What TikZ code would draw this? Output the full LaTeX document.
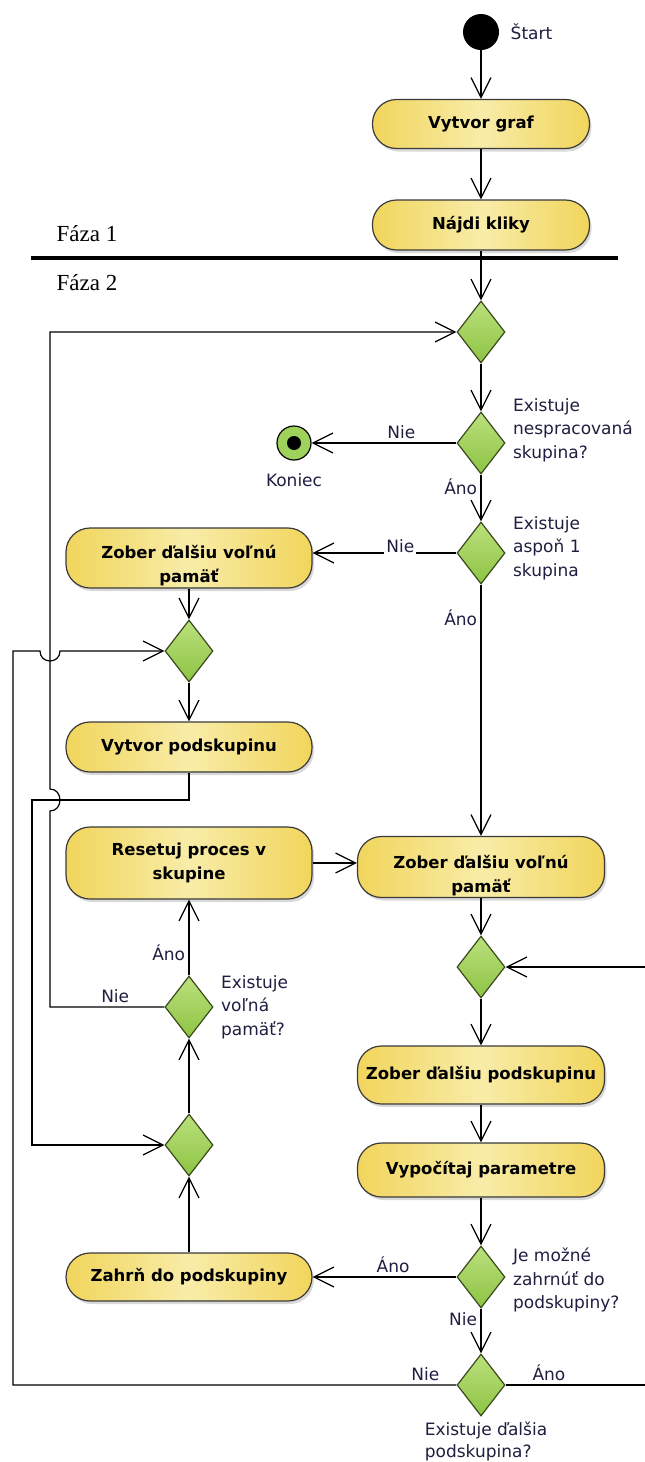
\documentclass[tikz,border=0pt]{standalone}
\usepackage{fontspec}
\setmainfont{DejaVu Sans}
\newfontfamily\fazafont{Liberation Serif}
\usetikzlibrary{arrows.meta, positioning, shapes.geometric, shadows, calc}

\definecolor{boxlight}{HTML}{F8ECA8}
\definecolor{boxdark}{HTML}{F1D55C}
\definecolor{boxline}{HTML}{3A3A3A}
\definecolor{dialight}{HTML}{BBE07C}
\definecolor{diadark}{HTML}{8DC444}
\definecolor{dialine}{HTML}{3B4A1E}
\definecolor{endgreen}{HTML}{9ED25A}
\definecolor{labelcol}{HTML}{1E1E40}

\newcommand{\sunk}[2]{\raisebox{-#1}[\height][\depth]{\begin{tabular}{@{}c@{}}#2\end{tabular}}}

\begin{document}
\begin{tikzpicture}[x=1pt, y=-1pt,
    akcia/.style={rectangle, rounded corners=24pt, draw=boxline, line width=1.2pt,
        left color=boxdark, right color=boxdark, middle color=boxlight,
        minimum width=246pt, align=center, font=\fontsize{16.5}{24}\selectfont\bfseries,
        drop shadow={shadow xshift=2pt, shadow yshift=-3pt, opacity=0.3}},
    rozhod/.style={diamond, draw=dialine, line width=1.2pt, top color=dialight, bottom color=diadark,
        minimum width=48pt, minimum height=62pt, inner sep=0pt},
    popis/.style={font=\fontsize{17}{23.5}\selectfont, text=labelcol, align=left},
    tok/.style={line width=1.2pt, -{Straight Barb[length=20pt, width=20pt]}}
]
    \useasboundingbox (0,0) rectangle (645,1462);

    % pomocne body pre slucky
    \coordinate (kA) at (13,0);
    \coordinate (kR) at (650,0);
    \coordinate (ohyb1) at (32,800);
    \coordinate (skok1) at (50,800);
    \coordinate (skok2) at (50,651);

    % faza 1
    \node[circle, fill=black, minimum size=36pt, inner sep=0pt,
        label={[popis, label distance=8pt]east:Štart}] (start) at (481,32) {};
    \node[akcia, minimum width=217pt, minimum height=49pt] (graf) at (481,124) {Vytvor graf};
    \node[akcia, minimum width=217pt, minimum height=50pt] (kliky) at (481,225) {Nájdi kliky};

    \node[font=\fazafont\fontsize{23}{23}\selectfont] (faza1) at (87,234) {Fáza 1};
    \node[font=\fazafont\fontsize{23}{23}\selectfont] (faza2) at (87,283) {Fáza 2};

    % faza 2
    \node[rozhod] (m1) at (481,332) {};
    \node[rozhod, label={[popis, label distance=4pt, yshift=13pt]east:Existuje\\nespracovaná\\skupina?}] (d1) at (481,443) {};
    \node[circle, draw=black, line width=1.2pt, fill=endgreen, minimum size=34pt, inner sep=0pt,
        label={[popis, label distance=9pt]south:Koniec}] (koniec) at (294,443) {};
    \fill[black] (koniec.center) circle[radius=7pt];
    \node[rozhod, label={[popis, label distance=4pt, yshift=5pt]east:Existuje\\aspoň 1\\skupina}] (d2) at (481,553) {};

    \node[akcia, minimum height=60pt] (volna1) at (189,558) {\sunk{8pt}{Zober ďalšiu voľnú\\pamäť}};
    \node[rozhod] (m2) at (189,651) {};
    \node[akcia, minimum height=50pt] (podsk) at (189,747) {Vytvor podskupinu};
    \node[akcia, minimum height=72pt] (reset) at (189,863) {Resetuj proces v\\skupine};
    \node[rozhod, label={[popis, label distance=4pt]east:Existuje\\voľná\\pamäť?}] (dvolna) at (189,1007) {};
    \node[rozhod] (m4) at (189,1145) {};
    \node[akcia, minimum height=48pt] (zahrn) at (189,1277) {Zahrň do podskupiny};

    \node[akcia, minimum width=247pt, minimum height=61pt] (volna2) at (481,867) {\sunk{9pt}{Zober ďalšiu voľnú\\pamäť}};
    \node[rozhod] (m3) at (481,967) {};
    \node[akcia, minimum width=247pt, minimum height=58pt] (podsk2) at (481,1075) {Zober ďalšiu podskupinu};
    \node[akcia, minimum width=247pt, minimum height=54pt] (param) at (481,1170) {Vypočítaj parametre};
    \node[rozhod, label={[popis, label distance=4pt, yshift=-3pt]east:Je možné\\zahrnúť do\\podskupiny?}] (dmozne) at (481,1277) {};
    \node[rozhod, label={[popis, font=\fontsize{17}{22}\selectfont, inner sep=1pt, label distance=4pt, xshift=5pt]south:Existuje ďalšia\\podskupina?}] (ddalsia) at (481,1385) {};

    % prechody
    \draw[tok] (start) -- (graf);
    \draw[tok] (graf) -- (kliky);
    \draw[tok] (kliky) -- (m1);
    \draw[line width=4pt] (31,258) -- (618,258);
    \draw[tok] (m1) -- (d1);
    \draw[tok] (d1) -- node[popis, above, pos=.38] {Nie} (koniec);
    \draw[tok] (d1) -- node[popis, left, pos=.25] {Áno} (d2);
    \draw[tok] (d2.west) -- node[popis, fill=white, inner sep=2pt, above=-2pt, pos=.39] {Nie} (d2.west -| volna1.east);
    \draw[tok] (d2) -- node[popis, left, pos=.13] {Áno} (volna2);
    \draw[tok] (volna1) -- (m2);
    \draw[tok] (m2) -- (podsk);
    \draw[tok] (podsk.south) |- (ohyb1) |- (m4.west);
    \draw[tok] (reset.east) -- (reset.east -| volna2.west);
    \draw[tok] (volna2) -- (m3);
    \draw[tok] (m3) -- (podsk2);
    \draw[tok] (podsk2) -- (param);
    \draw[tok] (param) -- (dmozne);
    \draw[tok] (dmozne) -- node[popis, above, pos=.44] {Áno} (zahrn);
    \draw[tok] (dmozne) -- node[popis, left, pos=.23] {Nie} (ddalsia);
    \draw[tok] (zahrn) -- (m4);
    \draw[tok] (m4) -- (dvolna);
    \draw[tok] (dvolna) -- node[popis, left, pos=.3] {Áno} (reset);
    \draw[tok] (dvolna.west) -- node[popis, above, pos=.43] {Nie} (dvolna.west -| skok1)
        -- ($(skok1)+(0,11)$) .. controls ($(skok1)+(13.3,11)$) and ($(skok1)+(13.3,-11)$) .. ($(skok1)+(0,-11)$)
        |- (m1.west);
    \draw[tok] (ddalsia.west) -- node[popis, above, pos=.07] {Nie} (ddalsia.west -| kA)
        -- (kA |- m2.west) -- ($(skok2)+(-10,0)$)
        .. controls ($(skok2)+(-10,13.3)$) and ($(skok2)+(10,13.3)$) .. ($(skok2)+(10,0)$) -- (m2.west);
    \draw[tok] (ddalsia.east) -- node[popis, above, pos=.3] {Áno} (ddalsia.east -| kR) |- (m3.east);
\end{tikzpicture}
\end{document}
